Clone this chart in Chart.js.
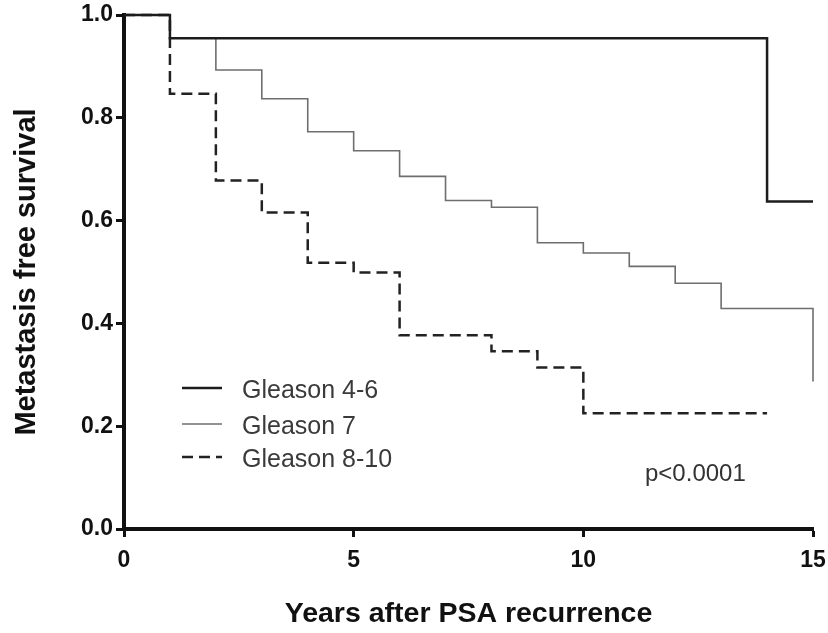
<!DOCTYPE html>
<html>
<head>
<meta charset="utf-8">
<script src="https://cdn.jsdelivr.net/npm/chart.js@4"></script>
<style>
  html, body { margin: 0; padding: 0; background: #fff; }
  #wrap { width: 828px; height: 633px; }
</style>
</head>
<body>
<div id="wrap"><canvas id="chart" width="828" height="633"></canvas></div>
<script>
// Kaplan-Meier curves: metastasis free survival by Gleason score

// ─── Data ────────────────────────────────────────────────────────────────────

const years46 = [0, 1, 14, 15];
const surv46  = [1.0, 0.955, 0.637, 0.637];

const years7 = [0, 1, 2, 3, 4, 5, 6, 7, 8, 9, 10, 11, 12, 13, 15];
const surv7  = [1.0, 0.955, 0.893, 0.837, 0.773, 0.736, 0.686, 0.639, 0.626, 0.557, 0.537, 0.511, 0.478, 0.429, 0.287];

const years810 = [0, 1, 2, 3, 4, 5, 6, 8, 9, 10, 14];
const surv810  = [1.0, 0.847, 0.678, 0.616, 0.518, 0.499, 0.377, 0.346, 0.314, 0.225, 0.225];

const seriesLabels = ['Gleason 4-6', 'Gleason 7', 'Gleason 8-10'];
const xTicks = [0, 5, 10, 15];
const yTicks = [0.0, 0.2, 0.4, 0.6, 0.8, 1.0];
const pValueText = 'p<0.0001';

const FONT = "'Liberation Sans', Arial, Helvetica, sans-serif";

const toPoints = (xs, ys) => xs.map((x, i) => ({ x, y: ys[i] }));

// ─── In-plot legend + p value ────────────────────────────────────────────────

const overlay = {
  id: 'overlay',
  afterDatasetsDraw(chart) {
    const ctx = chart.ctx;
    const rowsY = [391, 427, 460];
    ctx.save();
    ctx.font = `25px ${FONT}`;
    ctx.textBaseline = 'middle';
    ctx.textAlign = 'left';
    chart.data.datasets.forEach((ds, i) => {
      const y = rowsY[i];
      ctx.beginPath();
      ctx.strokeStyle = ds.borderColor;
      ctx.lineWidth = ds.borderWidth;
      ctx.setLineDash(ds.borderDash || []);
      ctx.moveTo(182, y - 3);
      ctx.lineTo(222, y - 3);
      ctx.stroke();
      ctx.setLineDash([]);
      ctx.fillStyle = '#3a3a3a';
      ctx.fillText(ds.label, 242, y);
    });
    ctx.font = `24px ${FONT}`;
    ctx.fillStyle = '#333';
    ctx.fillText(pValueText, 645, 474);
    ctx.restore();
  },
};

// ─── Chart ───────────────────────────────────────────────────────────────────

const styles = [
  { color: '#1c1c1c', width: 2.5, dash: [] },
  { color: '#6e6e6e', width: 1.6, dash: [] },
  { color: '#222222', width: 2.5, dash: [11, 6] },
];

const datasets = [
  toPoints(years46, surv46),
  toPoints(years7, surv7),
  toPoints(years810, surv810),
].map((data, i) => ({
  label: seriesLabels[i],
  data,
  stepped: 'before',
  borderColor: styles[i].color,
  borderWidth: styles[i].width,
  borderDash: styles[i].dash,
  pointRadius: 0,
  fill: false,
  clip: false,
}));

new Chart(document.getElementById('chart'), {
  type: 'line',
  data: { datasets },
  plugins: [overlay],
  options: {
    responsive: false,
    animation: false,
    layout: { padding: { left: 0, right: 15, top: 15, bottom: 0 } },
    plugins: {
      legend: { display: false },
      tooltip: { enabled: false },
    },
    scales: {
      x: {
        type: 'linear',
        min: 0,
        max: 15,
        afterBuildTicks: (s) => { s.ticks = xTicks.map((v) => ({ value: v })); },
        afterFit: (s) => { s.height = 104; s.paddingLeft = 0; s.paddingRight = 0; },
        grid: { drawOnChartArea: false, drawTicks: true, tickLength: 8, tickWidth: 3, tickColor: '#111' },
        border: { display: true, width: 4, color: '#111' },
        ticks: {
          color: '#111',
          padding: 10,
          maxRotation: 0,
          font: { family: FONT, size: 23, weight: 'bold' },
          callback: (v) => String(v),
        },
        title: {
          display: true,
          text: 'Years after PSA recurrence',
          color: '#111',
          padding: { top: 0, bottom: 2 },
          font: { family: FONT, size: 28.5, weight: 'bold', lineHeight: 1.2 },
        },
      },
      y: {
        type: 'linear',
        min: 0,
        max: 1,
        afterBuildTicks: (s) => { s.ticks = yTicks.map((v) => ({ value: v })); },
        afterFit: (s) => { s.width = 124; s.paddingTop = 0; s.paddingBottom = 0; },
        grid: { drawOnChartArea: false, drawTicks: true, tickLength: 8, tickWidth: 3, tickColor: '#111' },
        border: { display: true, width: 4, color: '#111' },
        ticks: {
          color: '#111',
          padding: 3,
          font: { family: FONT, size: 23, weight: 'bold' },
          callback: (v) => Number(v).toFixed(1),
        },
        title: {
          display: true,
          text: 'Metastasis free survival',
          color: '#111',
          padding: { top: 10, bottom: 0 },
          font: { family: FONT, size: 29, weight: 'bold', lineHeight: 1.2 },
        },
      },
    },
  },
});
</script>
</body>
</html>
